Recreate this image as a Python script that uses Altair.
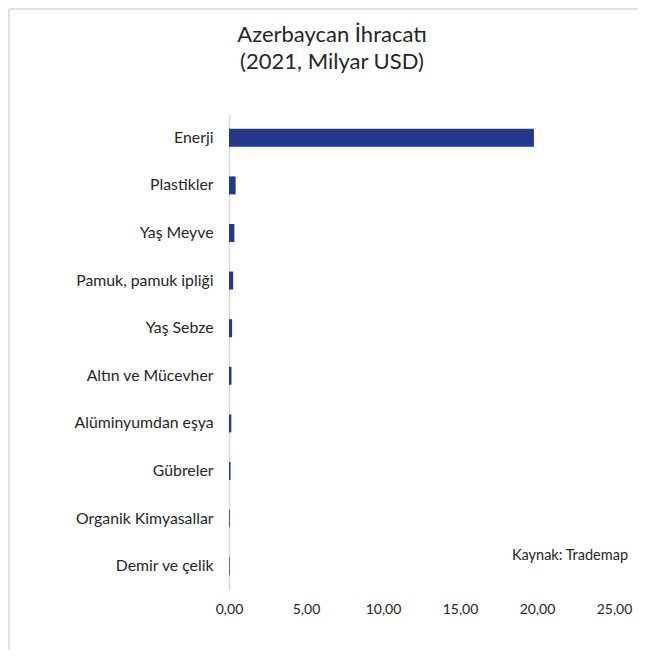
import altair as alt
import pandas as pd

categories = ["Enerji", "Plastikler", "Yaş Meyve", "Pamuk, pamuk ipliği", "Yaş Sebze",
              "Altın ve Mücevher", "Alüminyumdan eşya", "Gübreler", "Organik Kimyasallar", "Demir ve çelik"]
values = [19.8, 0.43, 0.35, 0.27, 0.2, 0.16, 0.15, 0.1, 0.05, 0.04]
title_lines = ["Azerbaycan İhracatı", "(2021, Milyar USD)"]
source_note = "Kaynak: Trademap"

df = pd.DataFrame({"cat": categories, "val": values})
FONT = "Lato"

bars = alt.Chart(df).mark_bar(color="#25398C", size=18).encode(
    x=alt.X("val:Q", scale=alt.Scale(domain=[0, 25]),
            axis=alt.Axis(values=[0, 5, 10, 15, 20, 25], grid=False, domain=False, ticks=False,
                          labelExpr="replace(format(datum.value, '.2f'), '.', ',')",
                          labelPadding=12, labelFontSize=14, labelColor="#262626",
                          labelFlush=False, labelFont=FONT, title=None)),
    y=alt.Y("cat:N", sort=categories,
            axis=alt.Axis(ticks=False, domainColor="#d9d9d9", domainWidth=1.5,
                          labelPadding=16, labelFontSize=15.8, labelColor="#262626",
                          labelFont=FONT, title=None, labelLimit=300)),
)

one = alt.Data(values=[{}])
t1 = alt.Chart(one).mark_text(text=title_lines[0], font=FONT, fontSize=22, color="#262626").encode(
    x=alt.value(103), y=alt.value(-79))
t2 = alt.Chart(one).mark_text(text=title_lines[1], font=FONT, fontSize=22, color="#262626").encode(
    x=alt.value(103), y=alt.value(-52))
note = alt.Chart(one).mark_text(text=source_note, font=FONT, fontSize=14.5, color="#262626", align="left").encode(
    x=alt.value(283), y=alt.value(442))
border_left = alt.Chart(one).mark_rule(color="#d9d9d9", strokeWidth=1.5).encode(
    x=alt.value(-220), y=alt.value(-105), y2=alt.value(560))
border_top = alt.Chart(one).mark_rule(color="#d9d9d9", strokeWidth=1.5).encode(
    x=alt.value(-220), x2=alt.value(410), y=alt.value(-105))

chart = alt.layer(bars, t1, t2, note, border_left, border_top).properties(
    width=385, height=476,
    autosize=alt.AutoSizeParams(type="none"),
    padding={"left": 221, "top": 106, "right": 24, "bottom": 60},
).configure_view(stroke=None)

chart.save("out.html", embed_options={"renderer": "svg", "actions": False})
